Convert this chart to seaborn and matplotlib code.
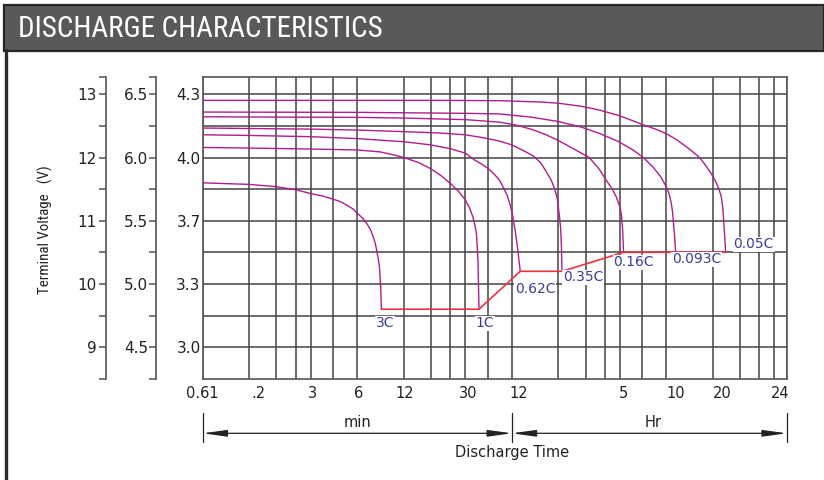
import numpy as np
import pandas as pd
import matplotlib
matplotlib.use("Agg")
import matplotlib.pyplot as plt
from matplotlib import font_manager
from matplotlib.patches import Rectangle
from matplotlib.lines import Line2D
import seaborn as sns

# ---------------- data (time in minutes, voltage on the 12 V scale) ----------------
rates = ["3C", "1C", "0.62C", "0.35C", "0.16C", "0.093C", "0.05C"]

t_3c = [0.6, 1.2, 1.78, 2.4, 3.0, 3.6, 4.2, 4.7, 5.1, 5.6, 6.0, 6.5, 6.9, 7.3, 7.6, 7.85, 8.0, 8.2, 8.35, 8.5, 8.6]
v_3c = [11.60, 11.575, 11.54, 11.49, 11.43, 11.39, 11.34, 11.30, 11.25, 11.19, 11.12, 11.04, 10.96, 10.86,
        10.75, 10.64, 10.54, 10.4, 10.27, 9.95, 9.6]

t_1c = [0.6, 1.2, 3, 6, 8.4, 10, 12, 15, 18, 21, 24, 27, 30, 32, 33.6, 34.6, 35.4, 36.2, 36.8]
v_1c = [12.16, 12.15, 12.135, 12.12, 12.09, 12.05, 12.0, 11.92, 11.82, 11.71, 11.59, 11.47, 11.33, 11.2,
        11.06, 10.93, 10.8, 10.38, 9.6]

t_062 = [0.6, 1.2, 3, 6, 12, 18, 24, 30, 34.5, 38, 42, 46, 50, 53, 56, 58, 60, 63, 65.5, 68]
v_062 = [12.36, 12.35, 12.33, 12.30, 12.25, 12.20, 12.14, 12.07, 11.96, 11.90, 11.83, 11.74, 11.64, 11.52,
         11.40, 11.28, 11.15, 10.85, 10.55, 10.2]

t_035 = [0.6, 3, 6, 12, 20, 30, 40, 50, 60, 70, 82, 92, 100, 108, 114, 118, 120, 122, 124, 125.6, 126.7]
v_035 = [12.467, 12.45, 12.435, 12.41, 12.39, 12.36, 12.31, 12.26, 12.20, 12.12, 12.03, 11.92, 11.78, 11.64,
         11.49, 11.35, 11.22, 11.06, 10.9, 10.59, 10.2]

t_016 = [0.6, 6, 12, 30, 50, 65, 82, 100, 120, 150, 190, 220, 245, 268, 284, 297, 306, 312, 317]
v_016 = [12.645, 12.636, 12.625, 12.60, 12.56, 12.51, 12.44, 12.36, 12.27, 12.14, 12.0, 11.82, 11.64, 11.5,
         11.38, 11.25, 11.12, 10.9, 10.5]

t_0093 = [0.6, 6, 30, 50, 80, 120, 170, 222, 290, 365, 430, 491, 550, 598, 625, 645, 658, 667, 678, 688]
v_0093 = [12.72, 12.715, 12.70, 12.69, 12.64, 12.57, 12.48, 12.38, 12.26, 12.12, 11.99, 11.85, 11.70, 11.54,
          11.42, 11.28, 11.13, 10.96, 10.75, 10.5]

t_005 = [0.6, 20, 50, 90, 120, 170, 222, 300, 423, 510, 598, 700, 808, 900, 983, 1080, 1180, 1262, 1320,
         1359, 1390, 1407, 1425, 1450]
v_005 = [12.905, 12.905, 12.90, 12.88, 12.86, 12.81, 12.75, 12.66, 12.52, 12.45, 12.38, 12.28, 12.17, 12.08,
         12.0, 11.87, 11.73, 11.6, 11.48, 11.38, 11.2, 11.01, 10.8, 10.5]

x_tick_pos = [0.6, 1.37, 3.08, 6.14, 12.2, 31.1, 66.5, 317, 688, 1375, 3260]
x_tick_labels = ["0.61", ".2", "3", "6", "12", "30", "12", "5", "10", "20", "24"]
x_grid = [0.6, 1.2, 1.8, 2.4, 3.0, 4.2, 6, 12, 18, 24, 30, 42, 60,
          120, 180, 240, 300, 420, 600, 1200, 1800, 2400, 3000, 3600]

y_ticks = [9, 10, 11, 12, 13]
y12_labels = ["9", "10", "11", "12", "13"]
y6_labels = ["4.5", "5.0", "5.5", "6.0", "6.5"]
ycell_labels = ["3.0", "3.3", "3.7", "4.0", "4.3"]

title = "DISCHARGE CHARACTERISTICS"
ylabel = "Terminal Voltage   (V)"

# ---------------- build frames ----------------
curves = {"3C": (t_3c, v_3c), "1C": (t_1c, v_1c), "0.62C": (t_062, v_062),
          "0.35C": (t_035, v_035), "0.16C": (t_016, v_016),
          "0.093C": (t_0093, v_0093), "0.05C": (t_005, v_005)}
df = pd.concat([pd.DataFrame({"t": t, "v": v, "rate": r}) for r, (t, v) in curves.items()],
               ignore_index=True)
ends = pd.DataFrame({"t": [curves[r][0][-1] for r in rates],
                     "v": [curves[r][1][-1] for r in rates]})

# ---------------- style ----------------
sns.set_style("white")
plt.rcParams["font.family"] = ["DejaVu Sans"]
names = {f.name for f in font_manager.fontManager.ttflist}
COND = "Roboto Condensed" if "Roboto Condensed" in names else "Liberation Sans"

MAG = "#b21c8c"
RED = "#ee3340"
BLUE = "#3a3d98"
GRID = "#444444"
SPINE = "#555555"
TXT = "#222222"

W, H = 824, 480
fig = plt.figure(figsize=(W / 100, H / 100), dpi=100)

L, R, T, B = 202.7, 786.7, 77.3, 378.7
ax = fig.add_axes([L / W, 1 - B / H, (R - L) / W, (B - T) / H])
ax.set_xscale("log")

sns.lineplot(data=df, x="t", y="v", hue="rate", palette={r: MAG for r in rates},
             sort=False, estimator=None, legend=False, lw=1.0, ax=ax, zorder=3)
sns.lineplot(data=ends, x="t", y="v", sort=False, estimator=None, color=RED,
             lw=1.2, ax=ax, zorder=3)

ax.set_xlim(0.6, 3600)
ax.set_ylim(8.5, 13.27)
ax.set_xlabel("")
ax.set_ylabel("")

# x: gridlines on major, labels on minor
ax.xaxis.remove_overlapping_locs = False
ax.set_xticks(x_grid, labels=[""] * len(x_grid))
ax.set_xticks(x_tick_pos, labels=x_tick_labels, minor=True)
ax.tick_params(axis="x", which="both", length=0)
ax.tick_params(axis="x", which="minor", pad=5, labelsize=10.5, labelcolor=TXT)

# y: cell-voltage labels
ax.set_yticks(y_ticks, labels=ycell_labels)
ax.set_yticks([9.5, 10.5, 11.5, 12.5], minor=True)
ax.tick_params(axis="y", which="both", length=0, pad=1.5, labelsize=11, labelcolor=TXT)

ax.xaxis.grid(True, which="major", color=GRID, lw=1.1)
ax.xaxis.grid(False, which="minor")
ax.yaxis.grid(True, which="both", color=GRID, lw=1.1)
ax.set_axisbelow(True)
for s in ax.spines.values():
    s.set_color(SPINE)
    s.set_linewidth(1.2)
    s.set_visible(True)

# extra voltage scales on the left
ylo, yhi = ax.get_ylim()
half = list(np.arange(8.5, 13.01, 0.5)) + [yhi]


def lab_for(v, labels):
    for tv, lb in zip(y_ticks, labels):
        if abs(v - tv) < 1e-6:
            return lb
    return ""


sec6 = ax.secondary_yaxis((156 - L) / (R - L), functions=(lambda v: v / 2, lambda v: v * 2))
sec6.set_yticks([v / 2 for v in half], labels=[lab_for(v, y6_labels) for v in half])
sec12 = ax.secondary_yaxis((106 - L) / (R - L), functions=(lambda v: v, lambda v: v))
sec12.set_yticks(half, labels=[lab_for(v, y12_labels) for v in half])
for sa, pad in ((sec6, 0.3), (sec12, 1.6)):
    sa.tick_params(axis="y", length=5.2, width=1.1, color=SPINE, pad=pad,
                   labelsize=11, labelcolor=TXT, direction="out")
    sa.spines["left"].set_color(SPINE)
    sa.spines["left"].set_linewidth(1.2)

# rate labels
label_off = {"3C": (4, -14), "1C": (6, -14), "0.62C": (15, -18), "0.35C": (21, -6),
             "0.16C": (10, -10), "0.093C": (21, -7), "0.05C": (28, 8)}
for r in rates:
    ax.annotate(r, xy=(curves[r][0][-1], curves[r][1][-1]), xytext=label_off[r],
                textcoords="offset pixels", ha="center", va="center",
                fontsize=10, color=BLUE, zorder=5,
                bbox=dict(boxstyle="square,pad=0.05", fc="white", ec="none"))

# dimension lines under axis
xt = ax.get_xaxis_transform()


def fy(py):
    return -(py - B) / (B - T)


for xv in (0.6, 60, 3600):
    ax.plot([xv, xv], [fy(412.5), fy(441.5)], transform=xt, color=TXT, lw=0.9, clip_on=False)
for a, b in ((0.6, 60), (60, 3600)):
    ax.annotate("", xy=(a, fy(433.3)), xytext=(b, fy(433.3)), xycoords=xt, textcoords=xt,
                arrowprops=dict(arrowstyle="<|-|>,head_length=1.45,head_width=0.2",
                                mutation_scale=10, color=TXT, lw=0.9,
                                shrinkA=0, shrinkB=0), annotation_clip=False)
ax.text(6, fy(426.7), "min", transform=xt, ha="center", va="baseline", fontsize=10.5, color=TXT)
ax.text(490, fy(426.7), "Hr", transform=xt, ha="center", va="baseline", fontsize=10.5, color=TXT)
ax.text(60, fy(456.7), "Discharge Time", transform=xt, ha="center", va="baseline",
        fontsize=10.5, color=TXT)

# y label
fig.text(45 / W, 1 - 230 / H, ylabel, rotation=90, ha="center", va="center",
         fontsize=10.7, family=[COND, "DejaVu Sans"], color=TXT)

# header bar and frame
fig.add_artist(Rectangle((4 / W, 1 - 50.5 / H), (W - 4) / W, 46 / H, transform=fig.transFigure,
                         facecolor="#58595b", edgecolor="#262626", lw=1.6, zorder=0))
fig.add_artist(Line2D([5.5 / W, 5.5 / W], [0, 1 - 50 / H], transform=fig.transFigure,
                      color="#2a2a2a", lw=2.4))
fig.text(18 / W, 1 - 36.7 / H, title, ha="left", va="baseline", fontsize=20.9,
         family=[COND, "DejaVu Sans"], color="white")

fig.savefig("out.png", dpi=100)
